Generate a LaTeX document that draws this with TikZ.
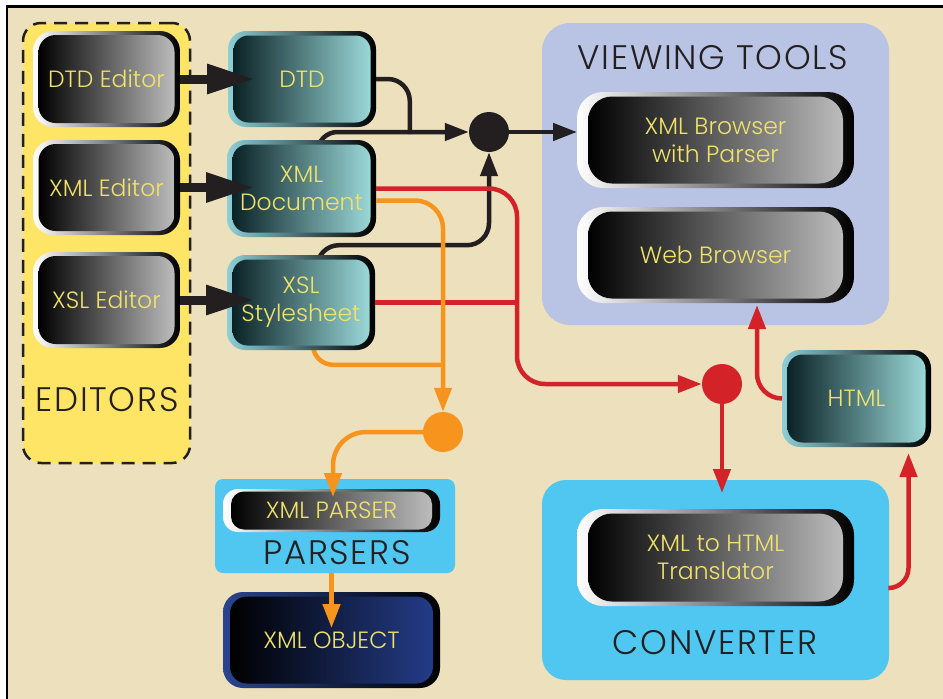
\documentclass[tikz,border=0pt]{standalone}
\usepackage{fontspec}
\setmainfont{Poppins}[UprightFont=* Light]
\usetikzlibrary{arrows.meta,calc}
\pgfdeclarelayer{groups}
\pgfdeclarelayer{wires}
\pgfsetlayers{groups,wires,main}

\definecolor{paper}{RGB}{237,224,189}
\definecolor{edyellow}{RGB}{255,229,102}
\definecolor{lavender}{RGB}{185,195,227}
\definecolor{sky}{RGB}{80,199,241}
\definecolor{labelyellow}{RGB}{240,226,106}
\definecolor{ink}{RGB}{35,31,32}
\definecolor{wirered}{RGB}{212,34,41}
\definecolor{wireorange}{RGB}{247,148,29}
\definecolor{tealrim}{RGB}{142,207,214}
\definecolor{tealdark}{RGB}{10,34,38}
\definecolor{teallight}{RGB}{155,216,216}
\definecolor{greylight}{RGB}{188,188,188}
\definecolor{navy}{RGB}{35,60,135}
\definecolor{navyrim}{RGB}{42,69,144}

\newcommand\boxfont{\fontsize{23.5}{28}\selectfont}
\newcommand\grpfont{\fontsize{34}{38}\selectfont\addfontfeatures{LetterSpace=5}}

% a box made of a shaded rim and a shaded core carrying the label
\newcommand\twotone[9]{%
  \node[#7, minimum width=#3, minimum height=#4] (#1) at #2 {};
  \node[#8, minimum width=#3-#5, minimum height=#4-#6] (#1-core) at (#1.center) {#9};
}

\begin{document}
\begin{tikzpicture}[x=1pt,y=-1pt,
  boxbase/.style={shape=rectangle, inner sep=0pt, outer sep=0pt},
  label/.style={text=labelyellow, font=\boxfont, align=center},
  greyrim/.style={boxbase, rounded corners=20pt, left color=white, right color=black},
  greycore/.style={boxbase, label, rounded corners=17pt, left color=black, right color=greylight},
  tealrimst/.style={boxbase, rounded corners=18pt, left color=tealrim, middle color=tealrim, right color=black},
  tealcore/.style={boxbase, label, rounded corners=15pt, left color=tealdark, right color=teallight},
  navyrimst/.style={boxbase, rounded corners=20pt, left color=navyrim, middle color=navyrim, right color=black},
  navycore/.style={boxbase, label, rounded corners=17pt, left color=black, right color=navy},
  group/.style={boxbase},
  grouptitle/.style={text=ink, font=\grpfont},
  dot/.style={circle, minimum size=40pt, inner sep=0pt},
  wire/.style={line width=4.5pt},
  tip/.style={-{Triangle[length=24pt,width=17pt]}},
  fat/.style={line width=9pt, draw=ink, -{Triangle[length=48pt,width=28pt]}}
]
\useasboundingbox (0,0) rectangle (943,699);

\begin{pgfonlayer}{groups}
  % sheet and frame
  \fill[white] (0,0) rectangle (943,699);
  \fill[paper] (7,7) rectangle (943,699);
  \draw[line width=2.2pt, black] (7,699) -- (7,6.5) -- (943,6.5);
  % group backgrounds
  \node[group, fill=edyellow, draw=ink, line width=2.5pt, dash pattern=on 13pt off 8pt,
        rounded corners=18pt, minimum width=167pt, minimum height=440pt] (editors) at (106.5,243) {};
  \node[grouptitle] (editorsT) at (107,400) {EDITORS};
  \node[group, fill=lavender, rounded corners=28pt, minimum width=347pt, minimum height=302pt] (viewing) at (715.5,174) {};
  \node[grouptitle] (viewingT) at (713,58) {VIEWING TOOLS};
  \node[group, fill=sky, rounded corners=24pt, minimum width=347pt, minimum height=200pt] (conv) at (715.5,580) {};
  \node[grouptitle] (convT) at (715,643) {CONVERTER};
  \node[group, fill=sky, rounded corners=8pt, minimum width=240pt, minimum height=94pt] (parsers) at (335,526) {};
  \node[grouptitle] (parsersT) at (337,553) {PARSERS};
\end{pgfonlayer}

% editors
\twotone{dtded}{(106.5,79)}{147pt}{96pt}{11pt}{8pt}{greyrim}{greycore}{DTD Editor}
\twotone{xmled}{(106.5,187.5)}{147pt}{95pt}{11pt}{8pt}{greyrim}{greycore}{XML Editor}
\twotone{xsled}{(106.5,300)}{147pt}{96pt}{11pt}{8pt}{greyrim}{greycore}{XSL Editor}

% documents
\twotone{dtd}{(302,79)}{148pt}{96pt}{11pt}{9pt}{tealrimst}{tealcore}{DTD}
\twotone{xmldoc}{(301.5,188.5)}{149pt}{97pt}{11pt}{9pt}{tealrimst}{tealcore}{XML\\Document}
\twotone{xsl}{(301,302.5)}{148pt}{95pt}{11pt}{9pt}{tealrimst}{tealcore}{XSL\\Stylesheet}
\twotone{html}{(856.5,398.5)}{149pt}{97pt}{11pt}{9pt}{tealrimst}{tealcore}{HTML}

% tools
\twotone{xmlbr}{(715.5,140)}{277pt}{96pt}{22pt}{9pt}{greyrim,rounded corners=26pt}{greycore,rounded corners=24pt}{XML Browser\\with Parser}
\twotone{webbr}{(715.5,255)}{277pt}{96pt}{22pt}{9pt}{greyrim,rounded corners=26pt}{greycore,rounded corners=24pt}{Web Browser}
\twotone{trans}{(715.5,557.5)}{277pt}{97pt}{22pt}{9pt}{greyrim,rounded corners=26pt}{greycore,rounded corners=24pt}{XML to HTML\\Translator}
\twotone{xmlparser}{(331.5,510.5)}{217pt}{43pt}{16pt}{5pt}{greyrim,rounded corners=15pt}{greycore,rounded corners=13pt}{XML PARSER}
\twotone{xmlobj}{(331.5,640)}{217pt}{96pt}{14pt}{9pt}{navyrimst}{navycore}{XML OBJECT}

% junction dots
\node[dot, fill=ink] (bdot) at (489,132) {};
\node[dot, fill=wirered] (rdot) at (722,384) {};
\node[dot, fill=wireorange] (odot) at (443,432) {};

% wires that leave a box from behind it
\begin{pgfonlayer}{wires}
  \draw[wire, ink, rounded corners=22pt] (dtd.east) -| ($(bdot.west)+(-59,2)$);
  \draw[wire, ink, rounded corners=20pt, tip] ($(xmldoc.north)+(16,14)$) |- (bdot.west);
  \draw[wire, ink, rounded corners=22pt, tip] ($(xsl.north)+(16,14)$) |- ($(bdot.south)+(0,93)$) -- (bdot.south);
  \draw[wire, wireorange, rounded corners=20pt] ($(xsl.south)+(12,-12)$) |- ($(odot.north)+(0,-47)$);
  \draw[wire, ink, tip] (bdot.east) -- (bdot.east -| xmlbr.west);
\end{pgfonlayer}

% editors feed their documents
\draw[fat] (dtded.east) -- ($(dtded.east -| dtd.west)+(27,0)$);
\draw[fat] (xmled.east) -- ($(xmled.east -| xmldoc.west)+(27,0)$);
\draw[fat] (xsled.east) -- ($(xsled.east -| xsl.west)+(27,0)$);

% conversion path
\coordinate (rj) at (517,300);
\draw[wire, wirered, rounded corners=28pt, tip] (xmldoc.east) -| (rj) |- (rdot.west);
\draw[wire, wirered] (xsl.east) -- (xsl.east -| rj);
\draw[wire, wirered, tip] (rdot.south) -- ($(rdot.south |- conv.north)+(0,13)$);
\draw[wire, wirered, rounded corners=20pt, tip] ($(conv.east)+(0,8)$) -| ($(html.south)+(52,6)$);
\draw[wire, wirered, rounded corners=25pt, tip] (html.west) -| ($(webbr.south)+(41.5,2)$);

% parsing path
\draw[wire, wireorange, rounded corners=28pt, tip] ($(xmldoc.east)+(0,12)$) -| (odot.north);
\draw[wire, wireorange, rounded corners=33pt, tip] (odot.west) -| ($(xmlparser.north)+(1.5,8)$);
\draw[wire, wireorange, tip] (parsers.south -| xmlparser.center) -- ($(xmlobj.north)+(0,36)$);
\end{tikzpicture}
\end{document}
